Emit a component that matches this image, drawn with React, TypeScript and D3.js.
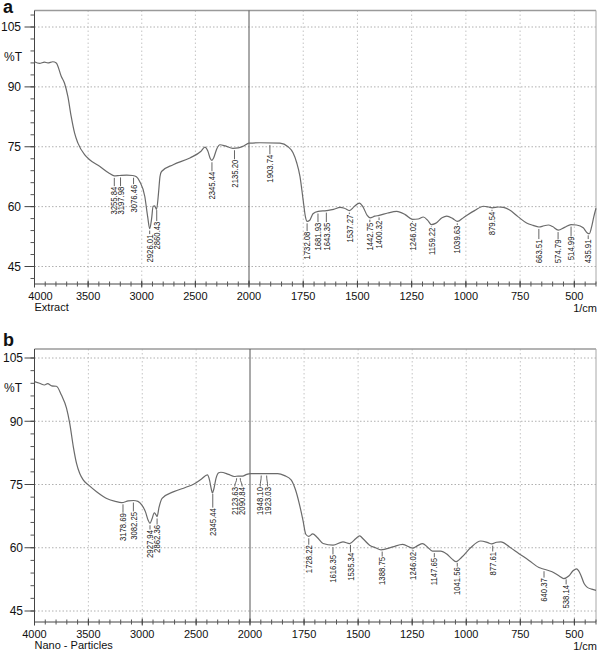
import React from 'react';
import * as d3 from 'd3';

// ---------- data ----------
const xTickValues = [4000, 3500, 3000, 2500, 2000, 1750, 1500, 1250, 1000, 750, 500];
const xGridValues = [3500, 3000, 2500, 1750, 1500, 1250, 1000, 750, 500];
const yTickValues = [105, 90, 75, 60, 45];

// Panel a: Extract
const extractWn = [
  4000, 3953, 3907, 3876, 3829, 3797, 3750, 3720, 3689, 3658, 3626, 3595, 3533, 3486, 3393, 3300,
  3256, 3206, 3140, 3084, 3050, 3019, 2972, 2945, 2926, 2908, 2894, 2880, 2862, 2845, 2830, 2816,
  2707, 2551, 2450, 2411, 2385, 2360, 2345, 2330, 2300, 2271, 2220, 2150, 2100, 2050, 2000, 1950,
  1857, 1820, 1797, 1780, 1765, 1750, 1740, 1732, 1720, 1705, 1681, 1643, 1610, 1580, 1560, 1537,
  1515, 1491, 1475, 1455, 1442, 1420, 1400, 1360, 1319, 1280, 1246, 1220, 1196, 1175, 1159, 1140,
  1110, 1088, 1060, 1039, 1010, 960, 919, 895, 879, 850, 827, 800, 760, 720, 690, 663,
  640, 620, 600, 574, 545, 515, 490, 459, 440, 431, 420, 410, 400,
];
const extractT = [
  96.3, 95.9, 96.2, 96.0, 96.3, 96.0, 92.6, 90.9, 87.6, 82.6, 78.4, 75.9, 73.0, 71.75, 70.1, 68.3,
  67.7, 67.8, 67.9, 67.8, 67.5, 66.3, 62.6, 57.5, 54.5, 57.0, 60.1, 60.2, 59.3, 63.0, 67.5, 68.8,
  70.5, 72.2, 73.8, 74.9, 74.0, 72.0, 71.6, 72.2, 74.5, 75.5, 75.2, 74.6, 74.7, 75.2, 75.9, 76.0,
  75.9, 75.0, 73.5, 71.0, 67.6, 61.5, 57.5, 56.3, 56.6, 58.2, 58.8, 59.0, 59.3, 59.8, 59.6, 59.0,
  60.0, 60.9, 60.0, 57.8, 57.2, 57.6, 57.8, 58.4, 58.8, 58.0, 56.8, 56.9, 57.4, 56.5, 55.5, 55.8,
  57.2, 57.6, 57.0, 56.3, 57.3, 59.0, 60.1, 59.9, 59.7, 59.9, 59.8, 59.2, 57.5, 55.9, 55.3, 54.9,
  55.2, 55.4, 55.0, 54.1, 54.8, 55.5, 55.4, 54.7, 53.4, 53.2, 55.0, 57.5, 59.6,
];
const extractPeakWn = [
  3255.84, 3197.98, 3076.46, 2926.01, 2860.43, 2345.44, 2135.2, 1903.74, 1732.08, 1681.93, 1643.35,
  1537.27, 1442.75, 1400.32, 1246.02, 1159.22, 1039.63, 879.54, 663.51, 574.79, 514.99, 435.91,
];
const extractPeakLabelT = [
  65, 65, 65.5, 53, 56.25, 68.75, 71.75, 73, 53.75, 56, 56,
  58, 56, 56.5, 56, 54.75, 55.25, 58.75, 51.75, 51.75, 52.5, 51.75,
];

// Panel b: Nano - Particles
const nanoWn = [
  4000, 3953, 3907, 3878, 3841, 3797, 3750, 3703, 3673, 3640, 3610, 3580, 3548, 3500, 3424, 3330,
  3250, 3190, 3130, 3081, 3040, 3003, 2970, 2945, 2928, 2910, 2888, 2875, 2862, 2845, 2816, 2707,
  2600, 2520, 2450, 2396, 2375, 2360, 2349, 2335, 2315, 2290, 2271, 2200, 2146, 2110, 2069, 2030,
  2000, 1950, 1872, 1840, 1810, 1790, 1770, 1755, 1742, 1728, 1710, 1690, 1662, 1616, 1570, 1539,
  1510, 1493, 1475, 1447, 1420, 1394, 1340, 1294, 1248, 1225, 1202, 1180, 1156, 1118, 1090, 1065,
  1046, 1020, 980, 933, 900, 882, 860, 840, 800, 756, 710, 664, 640, 603, 570, 549,
  526, 505, 490, 480, 470, 455, 440, 420, 400,
];
const nanoT = [
  99.4, 99.0, 98.6, 98.9, 98.4, 98.3, 96.2, 93.1, 89.5, 84.0, 80.0, 77.6, 76.1, 74.9, 73.3, 71.7,
  71.0, 70.7, 71.1, 71.2, 71.0, 70.1, 68.5, 66.5, 65.8, 66.8, 68.3, 67.9, 67.4, 69.5, 71.7, 73.3,
  74.3, 75.1, 76.3, 77.3, 76.0, 74.0, 73.0, 74.0, 76.5, 77.8, 77.9, 77.4, 76.9, 77.0, 77.0, 77.4,
  77.6, 77.6, 77.6, 77.1, 76.1, 73.8, 70.0, 66.5, 63.2, 62.7, 63.3, 62.5, 61.0, 60.6, 61.4, 61.0,
  62.2, 62.8, 62.0, 60.6, 60.0, 59.5, 60.2, 60.8, 59.9, 60.5, 61.0, 60.2, 59.2, 59.2, 58.5, 57.3,
  56.7, 57.8, 60.0, 61.6, 61.2, 60.9, 61.3, 61.4, 60.2, 58.6, 57.0, 55.3, 54.9, 54.3, 53.3, 52.7,
  53.3, 54.6, 55.0, 54.5, 53.5, 51.5, 50.6, 50.2, 49.9,
];
const nanoPeakWn = [
  3178.69, 3082.25, 2927.94, 2862.36, 2345.44, 2123.63, 2090.84, 1948.1, 1923.03, 1728.22, 1616.35,
  1535.34, 1388.75, 1246.02, 1147.65, 1041.56, 877.61, 640.37, 538.14,
];
const nanoPeakLabelT = [
  68.2, 68.5, 64.2, 65.4, 69.4, 74.4, 74.4, 74.4, 74.4, 60.6, 58.3,
  58.8, 57.8, 59, 57.6, 55.4, 59, 52.8, 51.2,
];

// ---------- component ----------
type PanelProps = {
  letter: string;
  sample: string;
  wn: number[];
  t: number[];
  peakWn: number[];
  peakLabelT: number[];
  top: number;
  bottom: number;
  left: number;
  right: number;
  x2000: number;
  y105: number;
  y45: number;
  firstLabelShift: number;
  yLabelRight: number;
  letterBaseline: number;
};

const FONT = 'Liberation Sans, Arial, Helvetica, sans-serif';

function spread(xs: number[], gap: number): number[] {
  const out = xs.slice();
  for (let iter = 0; iter < 30; iter++) {
    for (let i = 1; i < out.length; i++) {
      const d = out[i] - out[i - 1];
      if (d < gap) {
        const s = (gap - d) / 2;
        out[i - 1] -= s;
        out[i] += s;
      }
    }
  }
  return out;
}

function Panel(p: PanelProps) {
  const x = d3.scaleLinear().domain([4000, 2000, 400]).range([p.left, p.x2000, p.right]);
  const y = d3.scaleLinear().domain([45, 105]).range([p.y45, p.y105]);
  const interp = d3.scaleLinear().domain(p.wn).range(p.t);
  const pts: [number, number][] = p.wn.map((w, i) => [x(w), y(p.t[i])]);
  const line = d3.line().curve(d3.curveMonotoneX)(pts) || '';

  const minorX = [...d3.range(4000, 2000, -100), ...d3.range(2000, 399, -50)];
  const minorY = d3.range(42, 110, 3).filter((v) => y(v) <= p.bottom + 0.5 && y(v) >= p.top - 0.5);

  const peakX = p.peakWn.map((w) => x(w));
  const labelX = spread(peakX, 7.4);

  return (
    <g>
      <text x={3} y={p.letterBaseline} fontFamily={FONT} fontWeight="bold" fontSize={18} fill="#111">
        {p.letter}
      </text>
      {/* grid */}
      {yTickValues.map((v) => (
        <line key={'gy' + v} x1={p.left} x2={p.right} y1={y(v)} y2={y(v)} stroke="#b0b0b0" strokeWidth={1} strokeDasharray="1.5,2" />
      ))}
      {xGridValues.map((v) => (
        <line key={'gx' + v} x1={x(v)} x2={x(v)} y1={p.top} y2={p.bottom} stroke="#c4c4c4" strokeWidth={1} strokeDasharray="1.5,2.5" />
      ))}
      {/* frame */}
      <line x1={p.left} x2={p.right} y1={p.top} y2={p.top} stroke="#9a9a9a" strokeWidth={1.3} />
      <line x1={p.right} x2={p.right} y1={p.top} y2={p.bottom} stroke="#a8a8a8" strokeWidth={1} />
      <line x1={x(2000)} x2={x(2000)} y1={p.top} y2={p.bottom} stroke="#555" strokeWidth={1} />
      <line x1={p.left} x2={p.left} y1={p.top} y2={p.bottom} stroke="#444" strokeWidth={1} />
      <line x1={p.left} x2={p.right} y1={p.bottom} y2={p.bottom} stroke="#444" strokeWidth={1} />
      {/* y ticks */}
      {minorY.map((v) => (
        <line key={'my' + v} x1={p.left - 4} x2={p.left} y1={y(v)} y2={y(v)} stroke="#555" strokeWidth={1} />
      ))}
      {yTickValues.map((v) => (
        <g key={'ty' + v}>
          <line x1={p.left - 10} x2={p.left} y1={y(v)} y2={y(v)} stroke="#444" strokeWidth={1} />
          <text x={p.yLabelRight} y={y(v)} dy="0.36em" textAnchor="end" fontFamily={FONT} fontSize={12} fill="#111">
            {v}
          </text>
        </g>
      ))}
      <text x={4} y={p.y105 + 34} fontFamily={FONT} fontSize={12} fill="#111">
        %T
      </text>
      {/* x ticks */}
      {minorX.map((v) => (
        <line key={'mx' + v} x1={x(v)} x2={x(v)} y1={p.bottom - 2.5} y2={p.bottom + 2.5} stroke="#555" strokeWidth={1} />
      ))}
      {xTickValues.map((v, i) => (
        <g key={'tx' + v}>
          <line x1={x(v)} x2={x(v)} y1={p.bottom - 3.5} y2={p.bottom + 3.5} stroke="#444" strokeWidth={1} />
          <text x={x(v) + (i === 0 ? p.firstLabelShift : 0)} y={p.bottom + 15.5} textAnchor="middle" fontFamily={FONT} fontSize={11} fill="#111">
            {v}
          </text>
        </g>
      ))}
      <text x={p.left} y={p.bottom + 26.5} fontFamily={FONT} fontSize={11} fill="#111">
        {p.sample}
      </text>
      <text x={p.right + 1} y={p.bottom + 27.5} textAnchor="end" fontFamily={FONT} fontSize={11} fill="#111">
        1/cm
      </text>
      {/* spectrum */}
      <path d={line} fill="none" stroke="#6a6a6a" strokeWidth={1.2} />
      {/* peak labels */}
      {p.peakWn.map((w, i) => {
        const px = peakX[i];
        const lx = labelX[i];
        const cy = y(interp(w)) + 2;
        const ly = y(p.peakLabelT[i]) - 0.5;
        const midY = (cy + ly) / 2;
        const d =
          Math.abs(lx - px) < 0.6
            ? `M${px},${cy}L${px},${ly}`
            : `M${px},${cy}C${px},${midY} ${lx},${midY} ${lx},${ly}`;
        return (
          <g key={'pk' + i}>
            <path d={d} fill="none" stroke="#555" strokeWidth={0.9} />
            <text
              transform={`translate(${lx},${ly + 0.5}) rotate(-90) scale(0.86,1)`}
              dy="0.35em"
              textAnchor="end"
              fontFamily={FONT}
              fontSize={9}
              fill="#222"
            >
              {w.toFixed(2)}
            </text>
          </g>
        );
      })}
    </g>
  );
}

export default function App() {
  return (
    <svg
      width={600}
      height={654}
      viewBox="0 0 600 654"
      style={{ position: 'absolute', left: 0, top: 0, background: '#fff' }}
    >
      <rect x={0} y={0} width={600} height={654} fill="#fff" />
      <Panel
        letter="a"
        sample="Extract"
        wn={extractWn}
        t={extractT}
        peakWn={extractPeakWn}
        peakLabelT={extractPeakLabelT}
        top={10.5}
        bottom={284}
        left={34.5}
        right={596}
        x2000={249}
        y105={27}
        y45={266.5}
        firstLabelShift={6}
        yLabelRight={21}
        letterBaseline={13}
      />
      <Panel
        letter="b"
        sample="Nano - Particles"
        wn={nanoWn}
        t={nanoT}
        peakWn={nanoPeakWn}
        peakLabelT={nanoPeakLabelT}
        top={349}
        bottom={622}
        left={34.5}
        right={596}
        x2000={250}
        y105={358}
        y45={611}
        firstLabelShift={0}
        yLabelRight={23}
        letterBaseline={346}
      />
    </svg>
  );
}
